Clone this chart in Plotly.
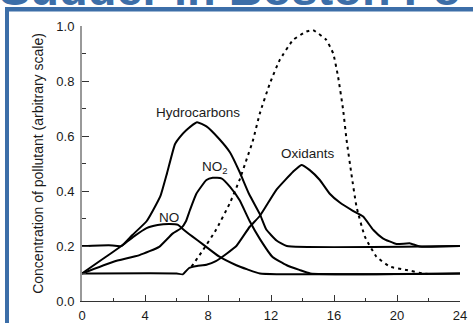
import plotly.graph_objects as go

# ---- data (hours of day, concentration on arbitrary scale) ----
hc_t = [0, 1.7, 2.5, 3.2, 4.1, 4.7, 5.0, 5.4, 5.9, 6.2, 6.6, 7.3, 7.9, 8.7, 9.4, 10.0, 10.6, 11.3, 11.7, 12.35, 13.0, 24]
hc_v = [0.2, 0.203, 0.2, 0.24, 0.29, 0.35, 0.385, 0.465, 0.57, 0.595, 0.62, 0.65, 0.635, 0.59, 0.54, 0.47, 0.39, 0.315, 0.26, 0.22, 0.2, 0.2]

no_t = [0, 1.2, 2.5, 3.3, 4.1, 4.8, 5.5, 6.1, 6.4, 7.0, 7.7, 8.7, 9.8, 10.5, 11.3, 24]
no_v = [0.1, 0.148, 0.2, 0.235, 0.265, 0.276, 0.28, 0.277, 0.262, 0.235, 0.205, 0.162, 0.13, 0.115, 0.1, 0.1]

no2_t = [0, 2.0, 3.65, 4.9, 5.75, 6.3, 6.6, 6.85, 7.26, 7.9, 8.3, 8.85, 9.4, 10.0, 10.65, 11.3, 12.1, 13.0, 13.8, 14.5, 24]
no2_v = [0.1, 0.143, 0.167, 0.197, 0.245, 0.265, 0.29, 0.33, 0.39, 0.44, 0.448, 0.446, 0.415, 0.367, 0.29, 0.225, 0.16, 0.13, 0.113, 0.1, 0.1]

ox_t = [0, 6.0, 6.4, 6.8, 7.3, 7.9, 8.5, 9.2, 9.8, 10.65, 11.3, 12.35, 13.4, 13.93, 14.46, 15.1, 15.73, 16.37, 17.2, 17.85, 18.5, 19.1, 19.97, 20.8, 21.45, 24]
ox_v = [0.1, 0.1, 0.097, 0.12, 0.127, 0.132, 0.145, 0.173, 0.2, 0.27, 0.31, 0.405, 0.47, 0.495, 0.476, 0.44, 0.39, 0.358, 0.328, 0.307, 0.258, 0.228, 0.207, 0.21, 0.198, 0.2]

ald_t = [6.95, 7.68, 8.5, 9.38, 10.0, 10.44, 10.86, 11.28, 11.92, 12.55, 13.4, 14.25, 14.67, 15.5, 15.95, 16.26, 16.58, 16.8, 17.1, 17.43, 17.96, 18.7, 19.55, 20.6, 21.66, 22.2]
ald_v = [0.125, 0.185, 0.258, 0.355, 0.44, 0.513, 0.585, 0.68, 0.79, 0.876, 0.949, 0.98, 0.985, 0.95, 0.9, 0.815, 0.695, 0.585, 0.464, 0.343, 0.234, 0.161, 0.125, 0.113, 0.1, 0.097]

labels = ["Hydrocarbons", "NO", "NO<sub>2</sub>", "Oxidants", "Aldehydes"]
label_t = [7.34, 5.5, 8.42, 14.34, 14.2]
label_v = [0.684, 0.305, 0.487, 0.535, 1.03]

x_ticks = [0, 4, 8, 12, 16, 20, 24]
y_ticks = [0.0, 0.2, 0.4, 0.6, 0.8, 1.0]
y_ticktext = ["0.0", "0.2", "0.4", "0.6", "0.8", "1.0"]

title_text = "Sudder in Boston Fo"

# ---- layout geometry ----
W, H = 473, 323
ML, MR, MT, MB = 82, 13, 26, 22
PW, PH = W - ML - MR, H - MT - MB
FONT = "Liberation Sans, Arial, Helvetica, sans-serif"
BLUE = "#3c6ea8"


def px_x(p):
    return (p - ML) / PW


def px_y(p):
    return (H - MB - p) / PH


fig = go.Figure()
series = [(hc_t, hc_v, "solid"), (no_t, no_v, "solid"), (no2_t, no2_v, "solid"),
          (ox_t, ox_v, "solid"), (ald_t, ald_v, "3px,4px")]
for t, v, d in series:
    fig.add_trace(go.Scatter(x=t, y=v, mode="lines", line=dict(color="black", width=2, dash=d, shape="spline", smoothing=0.4),
                             cliponaxis=False, showlegend=False, hoverinfo="skip"))

for txt, tx, ty in zip(labels, label_t, label_v):
    fig.add_annotation(x=tx, y=ty, text=txt, showarrow=False, font=dict(family=FONT, size=13.5, color="#1a1a1a"),
                       xanchor="center", yanchor="middle")

# cut-off slide title at top (only the lower part of the letters is visible)
fig.add_annotation(xref="paper", yref="paper", x=px_x(-3), y=px_y(17), text=title_text, showarrow=False,
                   xanchor="left", yanchor="bottom", font=dict(family=FONT, size=47, color=BLUE, weight="bold"))

# slide frame
fig.add_shape(type="rect", xref="paper", yref="paper", x0=px_x(5), x1=px_x(9), y0=px_y(330), y1=px_y(7),
              fillcolor=BLUE, line_width=0, layer="above")
fig.add_shape(type="rect", xref="paper", yref="paper", x0=px_x(5), x1=px_x(480), y0=px_y(11.5), y1=px_y(7),
              fillcolor=BLUE, line_width=0, layer="above")

fig.update_layout(
    width=W, height=H, margin=dict(l=ML, r=MR, t=MT, b=MB, autoexpand=False),
    paper_bgcolor="white", plot_bgcolor="white",
    font=dict(family=FONT, size=13, color="#1a1a1a"),
    xaxis=dict(range=[0, 24], tickvals=x_ticks, ticks="inside", ticklen=6, tickwidth=1, tickcolor="#333",
               showline=True, linecolor="#333", linewidth=1, showgrid=False, zeroline=False,
               minor=dict(dtick=2, tick0=0, ticks="inside", ticklen=3, tickcolor="#333", showgrid=False),
               ticklabelstandoff=2, tickfont=dict(size=13)),
    yaxis=dict(range=[0, 1.0], tickvals=y_ticks, ticktext=y_ticktext, ticks="inside", ticklen=7, tickwidth=1,
               tickcolor="#333", showline=True, linecolor="#999", linewidth=2, showgrid=False, zeroline=False,
               minor=dict(dtick=0.1, tick0=0, ticks="inside", ticklen=4, tickcolor="#333", showgrid=False),
               ticklabelstandoff=3, tickfont=dict(size=13),
               title=dict(text="Concentration of pollutant (arbitrary scale)", font=dict(size=14), standoff=9)),
)

fig.write_html("out.html")
